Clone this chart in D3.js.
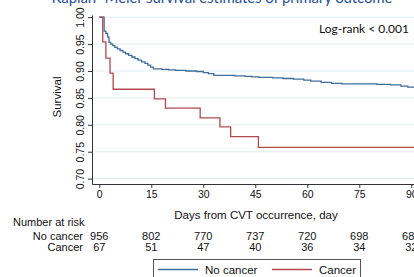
<!DOCTYPE html>
<html>
<head>
    <script src="https://cdn.jsdelivr.net/npm/d3@7"></script>
    <style>
        body {
            margin: 0;
            background: white;
            font-family: "Liberation Sans", Arial, Helvetica, sans-serif;
        }
        svg {
            display: block;
        }
    </style>
</head>
<body>
    <svg id="KMChart"></svg>
</body>
<script>
    // survival curves: [day, survival]
    let noCancerCurve = [
        [0, 1.000], [1.4, 0.974], [1.9, 0.970], [2.4, 0.963], [2.8, 0.953], [3.3, 0.950],
        [3.9, 0.947], [4.5, 0.944], [5.2, 0.941], [6.0, 0.938], [6.8, 0.935], [7.6, 0.932],
        [8.5, 0.929], [9.4, 0.926], [10.3, 0.923], [11.2, 0.920], [12.2, 0.917], [13.2, 0.914],
        [14.0, 0.911], [14.8, 0.907], [15.6, 0.904], [18, 0.903], [20, 0.902], [22, 0.901],
        [25, 0.900], [28, 0.899], [30, 0.897], [31.5, 0.895], [33, 0.892], [39, 0.891],
        [42, 0.890], [44, 0.889], [46, 0.888], [50, 0.887], [53, 0.886], [56, 0.885],
        [59, 0.883], [61, 0.881], [64, 0.879], [67, 0.877], [70, 0.876], [80, 0.875],
        [84, 0.874], [87, 0.872], [89, 0.870], [91, 0.868], [95, 0.866], [100, 0.865]
    ];
    let cancerCurve = [
        [0, 1.000], [1.0, 0.954], [1.9, 0.924], [3.1, 0.896], [4.0, 0.866], [15.9, 0.848],
        [19.1, 0.831], [29.1, 0.813], [34.8, 0.796], [37.9, 0.778], [45.9, 0.758], [100, 0.758]
    ];

    let xTicks = [0, 15, 30, 45, 60, 75, 90];
    let yTicks = [0.70, 0.75, 0.80, 0.85, 0.90, 0.95, 1.00];
    let riskGroups = ["No cancer", "Cancer"];
    let riskNoCancer = [956, 802, 770, 737, 720, 698, 683];
    let riskCancer = [67, 51, 47, 40, 36, 34, 32];

    let colors = {"No cancer": "#3f6d9c", "Cancer": "#b5484f"};

    function getConfig() {
        let width = 414;
        let height = 277;
        let container = d3.select("#KMChart")
            .attr("width", width)
            .attr("height", height);
        return { width, height, container };
    }

    function getScales() {
        // day 0 sits at x=99.3, 15 days are 52px
        let xScale = d3.scaleLinear()
            .domain([-2.1, 100])
            .range([92, 99.3 + 100 / 15 * 52]);
        let yScale = d3.scaleLinear()
            .domain([0.69, 1.004])
            .range([184, 15]);
        return { xScale, yScale };
    }

    function drawTitle(config) {
        let { container } = config;
        container.append("text")
            .attr("x", 222)
            .attr("y", 2.5)
            .attr("text-anchor", "middle")
            .style("font-family", "Lato, 'Open Sans', sans-serif")
            .style("font-size", "15px")
            .style("fill", "#1f4f9c")
            .attr("textLength", 341)
            .text("Kaplan\u2013Meier survival estimates of primary outcome");
    }

    function drawGrid(scales, config) {
        let { xScale, yScale } = scales;
        let { container, width } = config;
        container.append("g")
            .selectAll("line")
            .data(yTicks)
            .enter().append("line")
            .attr("x1", xScale(-2.1))
            .attr("x2", width)
            .attr("y1", d => yScale(d))
            .attr("y2", d => yScale(d))
            .style("stroke", "#e4eef1")
            .style("stroke-width", 1);
    }

    function drawAxes(scales, config) {
        let { xScale, yScale } = scales;
        let { container } = config;

        let axisX = d3.axisBottom(xScale)
            .tickValues(xTicks)
            .tickSize(4)
            .tickPadding(3)
            .tickSizeOuter(0);
        let gx = container.append("g")
            .attr("transform", `translate(0,${yScale(0.69)})`)
            .call(axisX);
        gx.selectAll("text")
            .style("font-family", "'Liberation Sans', Arial, sans-serif")
            .style("font-size", "10.5px")
            .style("fill", "#111");

        let axisY = d3.axisLeft(yScale)
            .tickValues(yTicks)
            .tickFormat(d3.format(".2f"))
            .tickSize(4)
            .tickSizeOuter(0);
        let gy = container.append("g")
            .attr("transform", `translate(${xScale(-2.1)},0)`)
            .call(axisY);
        gy.selectAll(".tick text")
            .attr("transform", "rotate(-90)")
            .attr("x", 0)
            .attr("y", -8)
            .attr("dy", 0)
            .style("text-anchor", "middle")
            .style("font-family", "'Liberation Sans', Arial, sans-serif")
            .style("font-size", "10.5px")
            .style("fill", "#111");

        container.selectAll(".domain, .tick line")
            .style("stroke", "#333");

        container.append("text")
            .attr("transform", "translate(61,97) rotate(-90)")
            .attr("text-anchor", "middle")
            .style("font-size", "11.5px")
            .style("fill", "#111")
            .text("Survival");

        container.append("text")
            .attr("x", 256)
            .attr("y", 219)
            .attr("text-anchor", "middle")
            .style("font-size", "11.5px")
            .style("fill", "#111")
            .text("Days from CVT occurrence, day");
    }

    function drawCurves(scales, config) {
        let { xScale, yScale } = scales;
        let { container } = config;
        let line = d3.line()
            .x(d => xScale(d[0]))
            .y(d => yScale(d[1]))
            .curve(d3.curveStepAfter);

        let curves = [
            { name: "No cancer", values: noCancerCurve },
            { name: "Cancer", values: cancerCurve }
        ];
        container.append("g")
            .selectAll("path")
            .data(curves)
            .enter().append("path")
            .attr("d", d => line(d.values))
            .style("fill", "none")
            .style("stroke", d => colors[d.name])
            .style("stroke-width", 1.3);

        container.append("text")
            .attr("x", 409)
            .attr("y", 33)
            .attr("text-anchor", "end")
            .style("font-family", "Lato, 'Open Sans', sans-serif")
            .style("font-size", "12px")
            .style("fill", "#111")
            .text("Log-rank < 0.001");
    }

    function drawRiskTable(scales, config) {
        let { xScale } = scales;
        let { container } = config;

        container.append("text")
            .attr("x", 13)
            .attr("y", 226)
            .style("font-size", "11px")
            .style("fill", "#111")
            .text("Number at risk");

        let rows = [riskNoCancer, riskCancer];
        rows.forEach((row, i) => {
            let y = 240 + i * 10.5;
            container.append("text")
                .attr("x", 83)
                .attr("y", y)
                .attr("text-anchor", "end")
                .style("font-size", "11px")
                .style("fill", "#111")
                .text(riskGroups[i]);
            container.append("g")
                .selectAll("text")
                .data(row)
                .enter().append("text")
                .attr("x", (d, j) => xScale(xTicks[j]))
                .attr("y", y)
                .attr("text-anchor", "middle")
                .style("font-size", "11px")
                .style("fill", "#111")
                .text(d => d);
        });
    }

    function drawLegend(config) {
        let { container } = config;
        container.append("rect")
            .attr("x", 153.5)
            .attr("y", 259.5)
            .attr("width", 207)
            .attr("height", 30)
            .style("fill", "white")
            .style("stroke", "#555");

        let legend = container.selectAll(".legend")
            .data(riskGroups)
            .enter().append("g")
            .attr("class", "legend")
            .attr("transform", (d, i) => `translate(${158 + i * 114},269.5)`);

        legend.append("line")
            .attr("x1", 0)
            .attr("x2", 40)
            .style("stroke", d => colors[d])
            .style("stroke-width", 1.3);

        legend.append("text")
            .attr("x", 47)
            .attr("y", 4)
            .style("font-size", "11.5px")
            .style("fill", "#111")
            .text(d => d);
    }

    function drawChart() {
        let config = getConfig();
        let scales = getScales();
        drawTitle(config);
        drawGrid(scales, config);
        drawCurves(scales, config);
        drawAxes(scales, config);
        drawRiskTable(scales, config);
        drawLegend(config);
    }
    drawChart();
</script>
</html>
